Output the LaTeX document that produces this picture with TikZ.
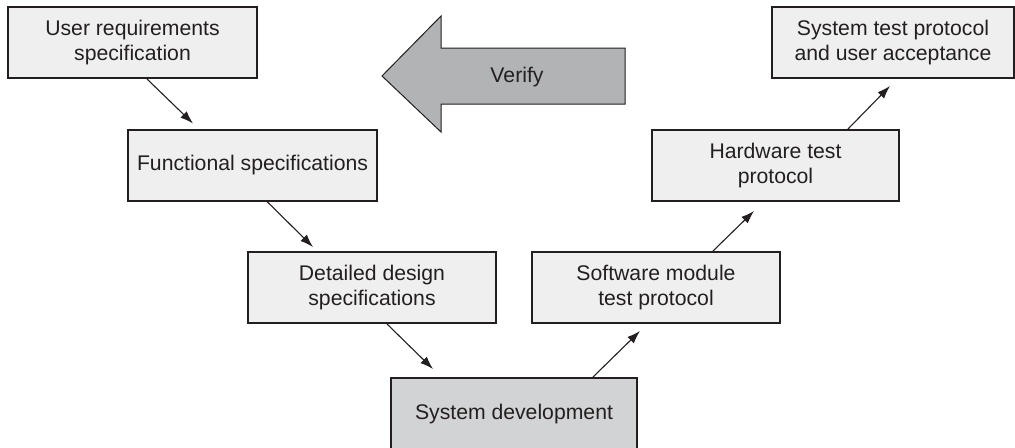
\documentclass[tikz,border=0pt]{standalone}
\usepackage{fontspec}
\setmainfont{Liberation Sans}
\usetikzlibrary{arrows.meta}
\newdimen\px \px=0.75pt
\definecolor{ink}{HTML}{231F20}
\definecolor{boxfill}{HTML}{EFEFEF}
\definecolor{devfill}{HTML}{D2D3D5}
\definecolor{verifyfill}{HTML}{B1B3B5}
\tikzset{
  stage/.style={draw=ink, line width=2\px, fill=boxfill, text=ink,
    minimum height=71\px, inner sep=0pt, align=center,
    font=\fontsize{15.9pt}{18.8pt}\selectfont},
  conn/.style={draw=ink, line width=1.1\px,
    -{Latex[length=9.75pt,width=6.75pt]}},
}
\begin{document}
\begin{tikzpicture}[x=0.75pt,y=-0.75pt]
\clip (0,0) rectangle (1015,447);
\fill[white] (0,0) rectangle (1015,447);

% large "Verify" arrow pointing left
\draw[ink, line width=1\px, fill=verifyfill]
  (382,76) -- (441,16) -- (441,48) -- (625,48) -- (625,104)
  -- (441,104) -- (441,132) -- cycle;
\node[text=ink, font=\fontsize{15.9pt}{18.8pt}\selectfont] (verify) at (517,77) {Verify};

% stages of the V
\node[stage, minimum width=249\px] (ureq) at (132.5,42.5) {User requirements\\specification};
\node[stage, minimum width=249\px] (func) at (252.5,165) {Functional specifications};
\node[stage, minimum width=248\px] (det)  at (372,287.5) {Detailed design\\specifications};
\node[stage, minimum width=246\px, minimum height=72\px, fill=devfill] (dev) at (514,414) {System development};
\node[stage, minimum width=248\px] (swt)  at (656,287.5) {Software module\\test protocol};
\node[stage, minimum width=247\px] (hwt)  at (775.5,165.5) {Hardware test\\protocol};
\node[stage, minimum width=242\px] (sys)  at (893,42.5) {System test protocol\\and user acceptance};

% connectors
\draw[conn] ([xshift=14.5\px]ureq.south) -- ([xshift=-59.5\px,yshift=5\px]func.north);
\draw[conn] ([xshift=14.5\px]func.south) -- ([xshift=-59\px,yshift=4\px]det.north);
\draw[conn] ([xshift=15\px]det.south)   -- ([xshift=-81\px,yshift=8\px]dev.north);
\draw[conn] ([xshift=79\px]dev.north)   -- ([xshift=-16\px,yshift=-7\px]swt.south);
\draw[conn] ([xshift=57\px]swt.north)   -- ([xshift=-21.5\px,yshift=-9\px]hwt.south);
\draw[conn] ([xshift=72.5\px]hwt.north) -- ([xshift=-3\px,yshift=-7\px]sys.south);
\end{tikzpicture}
\end{document}
